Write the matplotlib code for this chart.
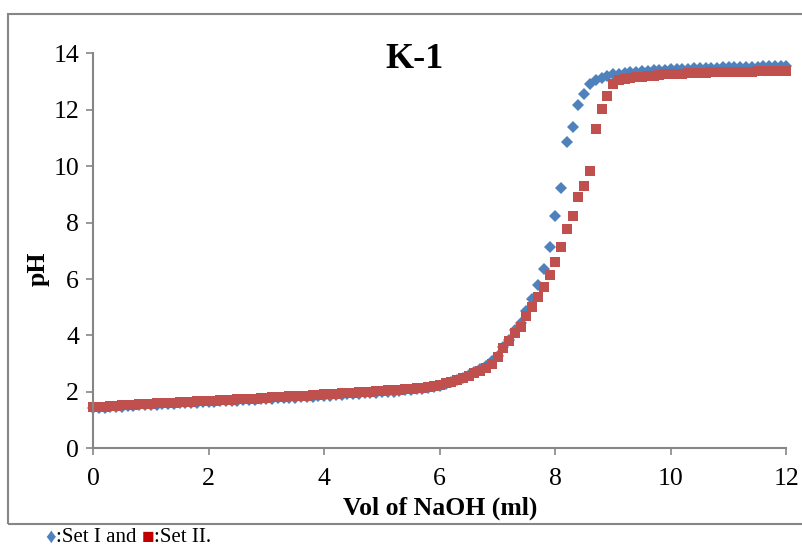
import matplotlib
matplotlib.use("Agg")
import matplotlib.pyplot as plt
from matplotlib.patches import Rectangle

# volume of NaOH added (ml), 0.1 ml steps
vol = [round(i * 0.1, 1) for i in range(121)]

# Set I (blue diamonds)
ph_set1 = [
    1.42, 1.42, 1.44, 1.45, 1.47, 1.48, 1.50, 1.51, 1.52, 1.53,
    1.54, 1.55, 1.56, 1.57, 1.58, 1.59, 1.60, 1.61, 1.62, 1.63,
    1.64, 1.65, 1.66, 1.67, 1.68, 1.69, 1.70, 1.71, 1.72, 1.73,
    1.75, 1.76, 1.77, 1.78, 1.79, 1.80, 1.81, 1.82, 1.83, 1.84,
    1.86, 1.87, 1.88, 1.90, 1.91, 1.92, 1.94, 1.95, 1.96, 1.97,
    1.99, 2.00, 2.01, 2.03, 2.05, 2.07, 2.09, 2.11, 2.14, 2.17,
    2.22, 2.28, 2.35, 2.42, 2.50, 2.59, 2.69, 2.80, 2.93, 3.08,
    3.28, 3.58, 3.85, 4.18, 4.45, 4.85, 5.28, 5.80, 6.37, 7.15,
    8.23, 9.24, 10.87, 11.40, 12.16, 12.55, 12.91, 13.06, 13.14, 13.21,
    13.25, 13.28, 13.31, 13.33, 13.35, 13.37, 13.38, 13.40, 13.41, 13.42,
    13.43, 13.44, 13.45, 13.46, 13.47, 13.47, 13.48, 13.49, 13.49, 13.50,
    13.51, 13.51, 13.52, 13.52, 13.53, 13.53, 13.54, 13.54, 13.55, 13.55,
    13.56,
]

# Set II (red squares)
ph_set2 = [
    1.45, 1.47, 1.48, 1.50, 1.51, 1.52, 1.54, 1.55, 1.56, 1.57,
    1.58, 1.59, 1.60, 1.61, 1.62, 1.63, 1.64, 1.65, 1.66, 1.67,
    1.68, 1.69, 1.70, 1.71, 1.72, 1.73, 1.74, 1.75, 1.76, 1.77,
    1.80, 1.81, 1.82, 1.83, 1.84, 1.85, 1.86, 1.87, 1.88, 1.89,
    1.91, 1.92, 1.93, 1.95, 1.96, 1.97, 1.99, 2.00, 2.01, 2.02,
    2.04, 2.05, 2.06, 2.08, 2.09, 2.11, 2.13, 2.15, 2.18, 2.21,
    2.25, 2.30, 2.36, 2.42, 2.48, 2.56, 2.66, 2.74, 2.84, 2.98,
    3.23, 3.56, 3.79, 4.10, 4.31, 4.68, 5.00, 5.35, 5.70, 6.13,
    6.61, 7.12, 7.77, 8.25, 8.90, 9.30, 9.84, 11.31, 12.03, 12.48,
    12.92, 13.04, 13.08, 13.12, 13.15, 13.17, 13.19, 13.21, 13.23, 13.25,
    13.26, 13.27, 13.28, 13.29, 13.30, 13.30, 13.31, 13.32, 13.32, 13.33,
    13.33, 13.34, 13.34, 13.35, 13.35, 13.36, 13.36, 13.36, 13.37, 13.37,
    13.38,
]

x_ticks = [0, 2, 4, 6, 8, 10, 12]
y_ticks = [0, 2, 4, 6, 8, 10, 12, 14]

BLUE = "#4F81BD"
RED = "#C0504D"
GREY = "#868686"

plt.rcParams["font.family"] = ["Liberation Serif", "DejaVu Sans"]

fig = plt.figure(figsize=(8.03, 5.47), dpi=100)

# outer chart frame (right edge is cut off in the original)
fig.patches.append(Rectangle((8 / 803, 1 - 524 / 547), 1.0, (524 - 14) / 547,
                             transform=fig.transFigure, fill=False,
                             edgecolor=GREY, linewidth=1.5))

ax = fig.add_axes([93 / 803, 1 - 448.3 / 547, (786.5 - 93) / 803, (448.3 - 53.3) / 547])

ax.plot(vol, ph_set1, linestyle="none", marker="D", markersize=6.2,
        color=BLUE, markeredgewidth=0, clip_on=False)
ax.plot(vol, ph_set2, linestyle="none", marker="s", markersize=7.4,
        color=RED, markeredgewidth=0, clip_on=False)

ax.set_xlim(0, 12)
ax.set_ylim(0, 14)
ax.set_xticks(x_ticks)
ax.set_yticks(y_ticks)
ax.tick_params(axis="both", direction="out", length=5, width=1.2, color=GREY,
               labelsize=18.5)
ax.tick_params(axis="y", pad=5)
ax.tick_params(axis="x", pad=9)

for side in ["top", "right"]:
    ax.spines[side].set_visible(False)
for side in ["left", "bottom"]:
    ax.spines[side].set_color(GREY)
    ax.spines[side].set_linewidth(1.5)

ax.set_xlabel("Vol of NaOH (ml)", fontsize=18.5, fontweight="bold")
ax.set_ylabel("pH", fontsize=18.5, fontweight="bold")
ax.xaxis.label.set_va("center")
ax.yaxis.label.set_va("center")
ax.xaxis.set_label_coords(0.5, (448.3 - 508) / 395)
ax.yaxis.set_label_coords((38 - 93) / 693.5, (448.3 - 269) / 395)
ax.text(0.463, 1.026, "K-1", transform=ax.transAxes, ha="center", va="top",
        fontsize=26, fontweight="bold")

# caption below the chart, coloured marker symbols
pieces = [("\u2666", BLUE), (":Set I and ", "black"), ("\u25A0", "#C00000"), (":Set II.", "black")]
fig.canvas.draw()
renderer = fig.canvas.get_renderer()
x = 45 / 803
for txt, col in pieces:
    t = fig.text(x, 1 - 538 / 547, txt, color=col, fontsize=15, va="center", ha="left")
    bb = t.get_window_extent(renderer=renderer)
    x += bb.width / fig.bbox.width

fig.savefig("out.png", dpi=100)
